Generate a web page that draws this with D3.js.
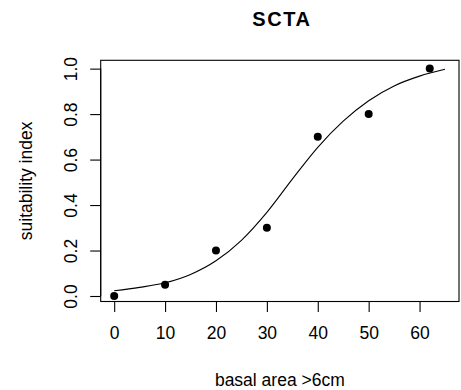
<!DOCTYPE html>
<html>
<head>
<meta charset="utf-8">
<script src="https://cdn.jsdelivr.net/npm/d3@7"></script>
<style>
  html, body { margin: 0; padding: 0; background: #fff; }
  svg { display: block; }
  text { font-family: "Liberation Sans", Arial, Helvetica, sans-serif; fill: #000; }
</style>
</head>
<body>
<svg id="chart" width="461" height="390"></svg>
<script>
// Observed suitability per basal-area class
const basalArea = [0, 10, 20, 30, 40, 50, 62];
const suitability = [0, 0.05, 0.2, 0.3, 0.7, 0.8, 1.0];

// Fitted response curve, sampled along basal area
const fitX = [0, 5, 10, 15, 20, 25, 30, 35, 40, 45, 50, 55, 60, 65];
const fitY = [0.023, 0.038, 0.058, 0.095, 0.155, 0.245, 0.368, 0.514, 0.654, 0.769, 0.859, 0.924, 0.967, 0.997];

const xTicks = [0, 10, 20, 30, 40, 50, 60];
const yTicks = [0, 0.2, 0.4, 0.6, 0.8, 1.0];

const titleText = "SCTA";
const xLabel = "basal area >6cm";
const yLabel = "suitability index";

const svg = d3.select("#chart");
const box = { left: 100.7, right: 459, top: 60.3, bottom: 301.5 };

const x = d3.scaleLinear().domain([-2.65, 67.75]).range([box.left, box.right]);
const y = d3.scaleLinear().domain([-0.0242, 1.0366]).range([box.bottom, box.top]);

// Plot frame
svg.append("rect")
  .attr("x", box.left).attr("y", box.top)
  .attr("width", box.right - box.left).attr("height", box.bottom - box.top)
  .attr("fill", "none").attr("stroke", "#000").attr("stroke-width", 1.1);

// Bottom axis
const xAxis = svg.append("g")
  .attr("transform", `translate(0,${box.bottom})`)
  .call(d3.axisBottom(x).tickValues(xTicks).tickSize(10.5).tickPadding(15).tickFormat(d3.format("d")));
xAxis.select(".domain").attr("d", `M${x(0)},0H${x(60)}`).attr("stroke-width", 1.1);
xAxis.selectAll(".tick line").attr("stroke-width", 1.1);
xAxis.selectAll("text").attr("font-size", "17.5px").attr("fill", "#000")
  .attr("font-family", "'Liberation Sans', Arial, sans-serif");

// Left axis with rotated labels
const yAxis = svg.append("g")
  .attr("transform", `translate(${box.left},0)`)
  .call(d3.axisLeft(y).tickValues(yTicks).tickSize(10.5).tickFormat(d3.format(".1f")));
yAxis.select(".domain").attr("d", `M0,${y(0)}V${y(1)}`).attr("stroke-width", 1.1);
yAxis.selectAll(".tick line").attr("stroke-width", 1.1);
yAxis.selectAll(".tick text")
  .attr("x", null).attr("dy", null)
  .attr("transform", "translate(-24,0) rotate(-90)")
  .attr("text-anchor", "middle")
  .attr("font-size", "17.5px").attr("fill", "#000")
  .attr("font-family", "'Liberation Sans', Arial, sans-serif");

// Fitted curve
const fitData = fitX.map((v, i) => [v, fitY[i]]);
svg.append("path")
  .datum(fitData)
  .attr("fill", "none").attr("stroke", "#000").attr("stroke-width", 1.1)
  .attr("d", d3.line().x(d => x(d[0])).y(d => y(d[1])).curve(d3.curveMonotoneX));

// Observed points
svg.append("g").selectAll("circle")
  .data(basalArea.map((v, i) => [v, suitability[i]]))
  .join("circle")
  .attr("cx", d => x(d[0])).attr("cy", d => y(d[1]))
  .attr("r", 4).attr("fill", "#000");

// Title and axis titles
const midX = (box.left + box.right) / 2;
svg.append("text")
  .attr("x", midX + 2).attr("y", 26)
  .attr("text-anchor", "middle")
  .attr("font-size", "20px").attr("font-weight", "bold")
  .attr("letter-spacing", "1.5px")
  .text(titleText);

svg.append("text")
  .attr("x", midX).attr("y", 386)
  .attr("text-anchor", "middle")
  .attr("font-size", "17.5px")
  .text(xLabel);

svg.append("text")
  .attr("transform", `translate(31.5,${(box.top + box.bottom) / 2}) rotate(-90)`)
  .attr("text-anchor", "middle")
  .attr("font-size", "17.5px")
  .text(yLabel);
</script>
</body>
</html>
